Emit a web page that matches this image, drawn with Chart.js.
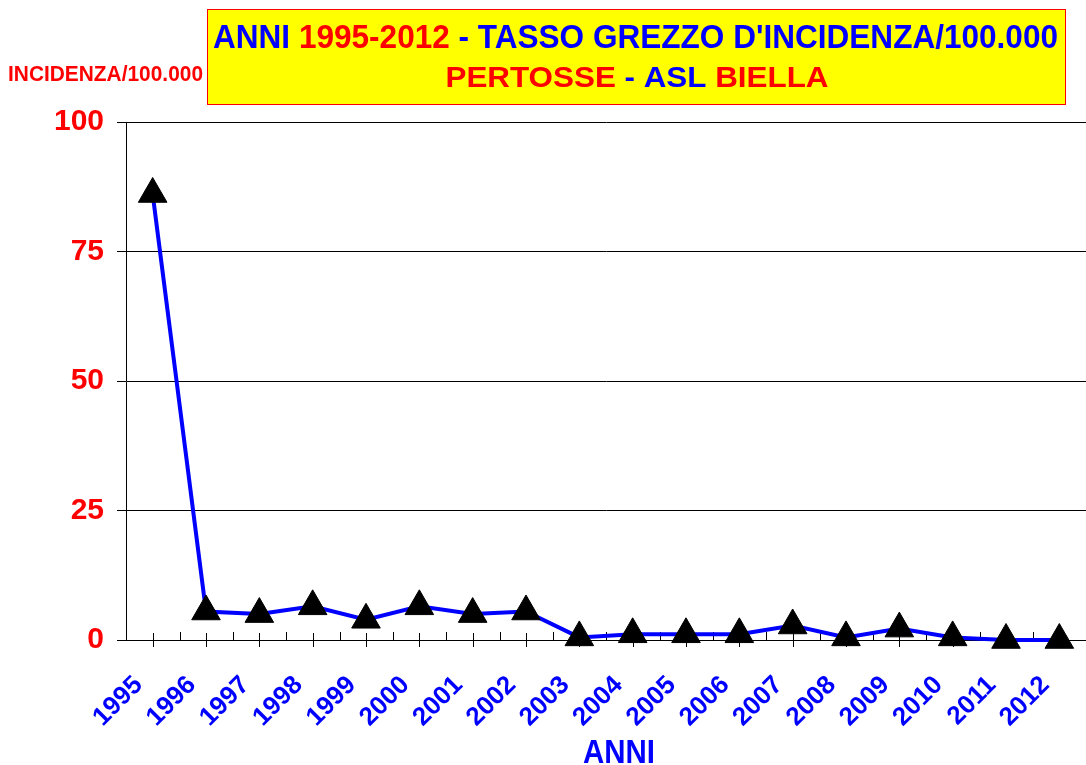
<!DOCTYPE html>
<html>
<head>
<meta charset="utf-8">
<script src="https://cdn.jsdelivr.net/npm/chart.js@4.4.1/dist/chart.umd.min.js"></script>
<style>
  html, body { margin: 0; padding: 0; background: #fff; }
  #wrap { width: 1086px; height: 765px; }
</style>
</head>
<body>
<div id="wrap"><canvas id="chart" width="1086" height="765"></canvas></div>
<script>
// dati
const anni = ['1995','1996','1997','1998','1999','2000','2001','2002','2003',
              '2004','2005','2006','2007','2008','2009','2010','2011','2012'];
const incidenza = [86.1, 5.5, 5.0, 6.5, 3.9, 6.5, 5.0, 5.5, 0.5,
                   1.1, 1.1, 1.1, 2.8, 0.5, 2.2, 0.5, 0, 0];
const yMin  = 0;
const yMax  = 100;
const yStep = 25;

const BLUE = '#0000FF';
const RED  = '#FF0000';
const FONT = '"Liberation Sans", Arial, sans-serif';

const titleLine1 = [['ANNI ', BLUE], ['1995-2012', RED], [' - TASSO GREZZO D\'INCIDENZA/100.000', BLUE]];
const titleLine2 = [['PERTOSSE', RED], [' - ASL ', BLUE], ['BIELLA', RED]];

// testo compresso orizzontalmente fino a una larghezza data
function drawSqueezed(ctx, parts, cx, baseline, width, font) {
  ctx.save();
  ctx.font = font;
  ctx.textAlign = 'left';
  ctx.textBaseline = 'alphabetic';
  const full = parts.map(p => p[0]).join('');
  const sx = width / ctx.measureText(full).width;
  ctx.translate(cx - width / 2, baseline);
  ctx.scale(sx, 1);
  let x = 0;
  for (const [txt, col] of parts) {
    ctx.fillStyle = col;
    ctx.fillText(txt, x, 0);
    x += ctx.measureText(txt).width;
  }
  ctx.restore();
}

const decorPlugin = {
  id: 'decor',
  beforeDatasetsDraw(chart) {
    // tacche asse x
    const { ctx, scales: { x, y } } = chart;
    const y0 = y.getPixelForValue(0);
    const half = (x.getPixelForTick(1) - x.getPixelForTick(0)) / 2;
    ctx.save();
    ctx.strokeStyle = '#000';
    ctx.lineWidth = 1;
    ctx.beginPath();
    anni.forEach((a, i) => {
      const px = Math.round(x.getPixelForTick(i)) + 0.5;
      ctx.moveTo(px, y0 - 7);
      ctx.lineTo(px, y0 + 7);
      const bx = Math.round(px + half) + 0.5;
      if (i < anni.length - 1) {
        ctx.moveTo(bx, y0 - 8);
        ctx.lineTo(bx, y0);
      }
    });
    ctx.stroke();
    ctx.restore();
  },
  afterDraw(chart) {
    const { ctx } = chart;
    ctx.save();
    // riquadro titolo
    ctx.fillStyle = '#FFFF00';
    ctx.fillRect(207, 9, 858, 95);
    ctx.strokeStyle = RED;
    ctx.lineWidth = 1;
    ctx.strokeRect(207.5, 9.5, 858, 95);
    ctx.restore();

    drawSqueezed(ctx, titleLine1, 635.5, 48, 845, 'bold 33px ' + FONT);
    drawSqueezed(ctx, titleLine2, 637, 87, 383, 'bold 30px ' + FONT);
    drawSqueezed(ctx, [['INCIDENZA/100.000', RED]], 105.5, 81, 195, 'bold 22px ' + FONT);
    drawSqueezed(ctx, [['ANNI', BLUE]], 619, 763, 72, 'bold 33px ' + FONT);
  }
};

new Chart(document.getElementById('chart'), {
  type: 'line',
  data: {
    labels: anni,
    datasets: [{
      data: incidenza,
      borderColor: BLUE,
      borderWidth: 4,
      tension: 0,
      clip: false,
      pointStyle: 'triangle',
      pointRadius: 16.5,
      pointHoverRadius: 16.5,
      pointBackgroundColor: '#000',
      pointBorderColor: '#000',
      pointBorderWidth: 1
    }]
  },
  options: {
    responsive: false,
    animation: false,
    devicePixelRatio: 1,
    layout: { autoPadding: false, padding: { top: 122, left: 0, right: 0, bottom: 0 } },
    plugins: {
      legend: { display: false },
      title: { display: false },
      tooltip: { enabled: false }
    },
    scales: {
      x: {
        type: 'category',
        offset: true,
        afterFit: s => { s.height = 125; s.paddingLeft = 0; s.paddingRight = 0; },
        grid: { display: false },
        border: { display: true, color: '#000', width: 1 },
        ticks: {
          autoSkip: false,
          minRotation: 45,
          maxRotation: 45,
          padding: 22,
          labelOffset: -14,
          color: BLUE,
          font: { family: FONT, size: 26, weight: 'bold' }
        }
      },
      y: {
        min: yMin,
        max: yMax,
        afterFit: s => { s.width = 126; },
        grid: { color: '#000', lineWidth: 1, tickLength: 9 },
        border: { display: true, color: '#000', width: 1 },
        ticks: {
          stepSize: yStep,
          padding: 13,
          color: RED,
          font: { family: FONT, size: 30, weight: 'bold' }
        }
      }
    }
  },
  plugins: [decorPlugin]
});
</script>
</body>
</html>
